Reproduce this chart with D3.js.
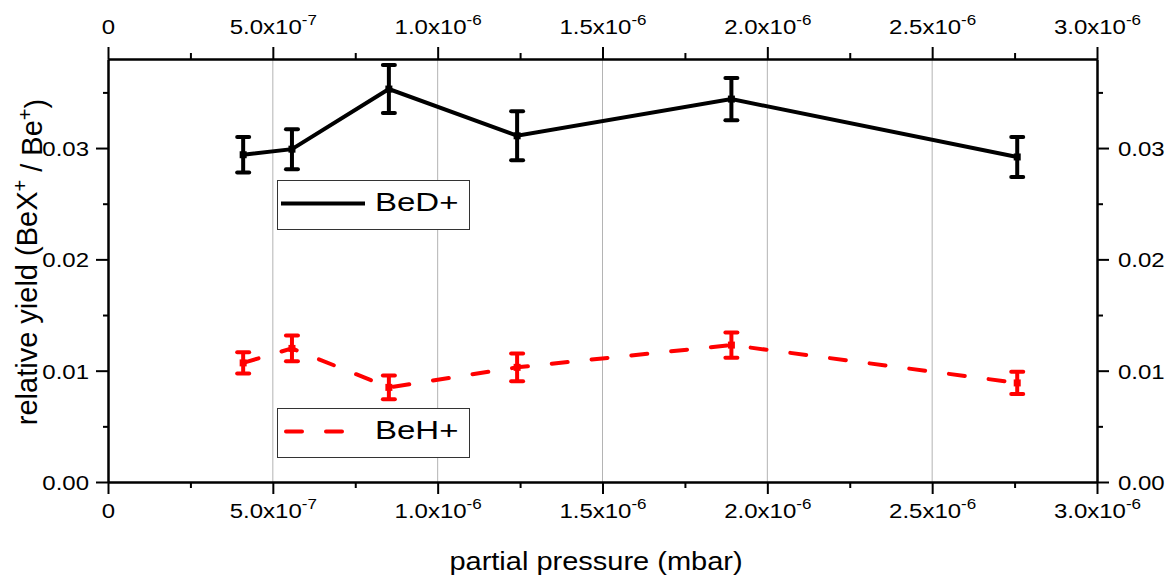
<!DOCTYPE html>
<html>
<head>
<meta charset="utf-8">
<script src="https://cdn.jsdelivr.net/npm/d3@7"></script>
<style>
  body { margin: 0; background: #fff; }
  svg { font-family: Arial, "Liberation Sans", sans-serif; }
</style>
</head>
<body>
<div id="chart"></div>
<script>
// data
const pressure = [4.1e-7, 5.58e-7, 8.52e-7, 1.241e-6, 1.891e-6, 2.758e-6]
const bedYield = [0.0294, 0.0299, 0.0353, 0.0311, 0.0344, 0.0292]
const bedErr = [0.0016, 0.0018, 0.00215, 0.0022, 0.0019, 0.0018]
const behYield = [0.0107, 0.0120, 0.0085, 0.0103, 0.0123, 0.0089]
const behErr = [0.00096, 0.00115, 0.00106, 0.00124, 0.00114, 0.0010]
const xMajor = [0, 5e-7, 1e-6, 1.5e-6, 2e-6, 2.5e-6, 3e-6]
const xMinor = [2.5e-7, 7.5e-7, 1.25e-6, 1.75e-6, 2.25e-6, 2.75e-6]
const yMajor = [0, 0.01, 0.02, 0.03]
const yMinor = [0.005, 0.015, 0.025, 0.035]

const w = 1175, h = 577
const m = {left: 108, right: 1097, top: 59, bottom: 482}
const squash = 0.87   // text in the picture is a bit flattened

const svg = d3.select('#chart').append('svg')
    .attr('width', w)
    .attr('height', h)

const x = d3.scaleLinear().domain([0, 3e-6]).range([m.left, m.right])
const y = d3.scaleLinear().domain([0, 0.038]).range([m.bottom, m.top])

// vertical grid lines
svg.append('g')
    .selectAll('line')
    .data(xMajor.slice(1, -1))
    .enter()
    .append('line')
    .attr('x1', d => x(d)).attr('x2', d => x(d))
    .attr('y1', m.top).attr('y2', m.bottom)
    .attr('stroke', '#b4b4b4')
    .attr('stroke-width', 1)

function sciLabel(sel){
    sel.each(function(d){
        const t = d3.select(this)
        t.text('')
        if (d === 0){ t.text('0'); return }
        const e = Math.floor(Math.log10(d) + 1e-9)
        const mant = d / Math.pow(10, e)
        t.append('tspan').text(mant.toFixed(1) + 'x10')
        t.append('tspan').attr('dy', '-0.6em').attr('font-size', '17px').text(e)
    })
}

function styleAxis(g){
    g.select('.domain').attr('stroke', '#000').attr('stroke-width', 2)
    g.selectAll('.tick line').attr('stroke', '#000').attr('stroke-width', 2)
    g.attr('font-family', null)
}

// move the tick labels and flatten them like in the picture
function placeLabels(g, tx, ty){
    g.selectAll('.tick text')
        .attr('x', null).attr('y', null).attr('dy', null)
        .attr('fill', '#000')
        .attr('font-size', '24px')
        .attr('transform', 'translate(' + tx + ',' + ty + ') scale(1,' + squash + ')')
}

// bottom axis
const gb = svg.append('g').attr('transform', 'translate(0,' + m.bottom + ')')
    .call(d3.axisBottom(x).tickValues(xMajor).tickSize(12).tickSizeOuter(0))
styleAxis(gb)
placeLabels(gb, 0, 36)
gb.selectAll('.tick text').call(sciLabel)
svg.append('g').attr('transform', 'translate(0,' + m.bottom + ')')
    .call(d3.axisBottom(x).tickValues(xMinor).tickSize(6).tickFormat('').tickSizeOuter(0))
    .call(styleAxis)

// top axis
const gt = svg.append('g').attr('transform', 'translate(0,' + m.top + ')')
    .call(d3.axisTop(x).tickValues(xMajor).tickSize(12).tickSizeOuter(0))
styleAxis(gt)
placeLabels(gt, 0, -25)
gt.selectAll('.tick text').call(sciLabel)
svg.append('g').attr('transform', 'translate(0,' + m.top + ')')
    .call(d3.axisTop(x).tickValues(xMinor).tickSize(6).tickFormat('').tickSizeOuter(0))
    .call(styleAxis)

// left axis
const gl = svg.append('g').attr('transform', 'translate(' + m.left + ',0)')
    .call(d3.axisLeft(y).tickValues(yMajor).tickSize(12).tickSizeOuter(0)
        .tickFormat(d3.format('.2f')))
styleAxis(gl)
placeLabels(gl, -19, 7.5)
svg.append('g').attr('transform', 'translate(' + m.left + ',0)')
    .call(d3.axisLeft(y).tickValues(yMinor).tickSize(5).tickFormat('').tickSizeOuter(0))
    .call(styleAxis)

// right axis
const gr = svg.append('g').attr('transform', 'translate(' + m.right + ',0)')
    .call(d3.axisRight(y).tickValues(yMajor).tickSize(12).tickSizeOuter(0)
        .tickFormat(d3.format('.2f')))
styleAxis(gr)
placeLabels(gr, 21, 7.5)
svg.append('g').attr('transform', 'translate(' + m.right + ',0)')
    .call(d3.axisRight(y).tickValues(yMinor).tickSize(6).tickFormat('').tickSizeOuter(0))
    .call(styleAxis)

// axis titles
svg.append('text')
    .attr('transform', 'translate(' + 596 + ',570) scale(1,0.87)')
    .attr('text-anchor', 'middle')
    .attr('font-size', '29px')
    .text('partial pressure (mbar)')

const yt = svg.append('text')
    .attr('transform', 'translate(37,262) rotate(-90)')
    .attr('text-anchor', 'middle')
    .attr('font-size', '29px')
yt.append('tspan').text('relative yield (BeX')
yt.append('tspan').attr('dy', '-0.5em').attr('font-size', '20px').text('+')
yt.append('tspan').attr('dy', '0.5em').text(' / Be')
yt.append('tspan').attr('dy', '-0.5em').attr('font-size', '20px').text('+')
yt.append('tspan').attr('dy', '0.5em').text(')')

// series
function drawSeries(vals, errs, color, dash){
    const pts = pressure.map((p, i) => ({p: p, v: vals[i], e: errs[i]}))
    const line = d3.line().x(d => x(d.p)).y(d => y(d.v))
    const g = svg.append('g')
    g.append('path')
        .datum(pts)
        .attr('d', line)
        .attr('fill', 'none')
        .attr('stroke', color)
        .attr('stroke-width', 4)
        .attr('stroke-linecap', dash ? 'round' : 'butt')
        .attr('stroke-dasharray', dash)

    const eb = g.selectAll('.eb').data(pts).enter().append('g')
    eb.append('line')
        .attr('x1', d => x(d.p)).attr('x2', d => x(d.p))
        .attr('y1', d => y(d.v + d.e)).attr('y2', d => y(d.v - d.e))
        .attr('stroke', color).attr('stroke-width', 4)
    eb.selectAll('.cap')
        .data(d => [d.v + d.e, d.v - d.e].map(v => ({p: d.p, v: v})))
        .enter().append('line')
        .attr('x1', d => x(d.p) - 6).attr('x2', d => x(d.p) + 6)
        .attr('y1', d => y(d.v)).attr('y2', d => y(d.v))
        .attr('stroke', color).attr('stroke-width', 4)
        .attr('stroke-linecap', 'round')
    eb.append('rect')
        .attr('x', d => x(d.p) - 3.5).attr('y', d => y(d.v) - 3.5)
        .attr('width', 7).attr('height', 7)
        .attr('fill', color)
}
drawSeries(bedYield, bedErr, '#000', null)
drawSeries(behYield, behErr, '#ff0000', '16,24')

// legends
function legend(top, label, color, dash){
    const g = svg.append('g').attr('transform', 'translate(277,' + top + ')')
    g.append('rect')
        .attr('x', 0.5).attr('y', 0.5)
        .attr('width', 192).attr('height', 49)
        .attr('fill', '#fff')
        .attr('stroke', '#333')
        .attr('stroke-width', 1)
    g.append('line')
        .attr('x1', dash ? 9 : 4).attr('x2', 88)
        .attr('y1', 23.5).attr('y2', 23.5)
        .attr('stroke', color)
        .attr('stroke-width', 4)
        .attr('stroke-linecap', dash ? 'round' : 'butt')
        .attr('stroke-dasharray', dash)
    g.append('text')
        .attr('transform', 'translate(98,31) scale(1,0.8)')
        .attr('font-size', '33px')
        .text(label)
}
legend(180, 'BeD+', '#000', null)
legend(408, 'BeH+', '#ff0000', '16,24')
</script>
</body>
</html>
